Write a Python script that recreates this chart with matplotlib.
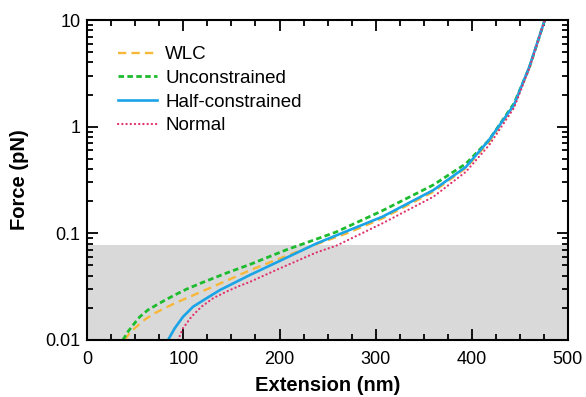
import numpy as np
import matplotlib
matplotlib.use('Agg')
import matplotlib.pyplot as plt
from matplotlib.ticker import FixedLocator, LogLocator, NullFormatter, MultipleLocator

plt.rcParams['font.family'] = ['Liberation Sans', 'DejaVu Sans']

# values
wlc_x = [39, 44, 51, 60, 70, 81, 93, 110, 145, 169, 200, 240, 270, 307, 360, 394,
         418, 444, 460, 476]
wlc_f = [0.01, 0.0116, 0.0133, 0.0156, 0.0178, 0.0200, 0.0225, 0.0262, 0.036,
         0.045, 0.058, 0.080, 0.100, 0.138, 0.245, 0.41, 0.72, 1.6, 3.6, 10]

uncon_x = [37, 42.4, 47.6, 54.6, 63, 72, 81, 91, 103, 117, 145, 169, 207, 238, 259, 307,
           360, 394, 418, 444, 460, 476]
uncon_f = [0.01, 0.012, 0.0138, 0.0165, 0.0191, 0.0213, 0.0237, 0.0264, 0.0299, 0.0338,
           0.0425, 0.051, 0.070, 0.088, 0.103, 0.163, 0.284, 0.45, 0.75, 1.65, 3.6, 10]

half_x = [84, 91, 99.6, 110, 124, 138, 152, 169, 200, 238, 262, 307, 360, 394, 418, 444,
          460, 476]
half_f = [0.01, 0.0129, 0.0165, 0.0205, 0.0246, 0.0294, 0.034, 0.0406, 0.055, 0.08, 0.098,
          0.143, 0.254, 0.42, 0.75, 1.6, 3.65, 10]

norm_x = [94.4, 99.6, 108.3, 118.7, 130.8, 144.7, 158.5, 169, 197, 238, 259, 307, 360, 394,
          418, 444, 460, 476]
norm_f = [0.01, 0.0129, 0.0165, 0.0205, 0.0246, 0.0284, 0.0322, 0.0350, 0.0455, 0.066,
          0.0765, 0.124, 0.22, 0.378, 0.67, 1.5, 3.55, 10]

shade_top = 0.078
y_ticks = [0.01, 0.1, 1, 10]
y_labels = ['0.01', '0.1', '1', '10']

fig = plt.figure(figsize=(5.86, 3.97), dpi=100)
ax = fig.add_axes([0.149, 0.1436, 0.82, 0.806])

ax.axhspan(0.01, shade_top, color='#d9d9d9', zorder=0, lw=0)

ax.plot(wlc_x, wlc_f, color='#f7b739', lw=1.7, ls=(0, (3.5, 2.2)), label='WLC')
ax.plot(uncon_x, uncon_f, color='#1dbb2e', lw=2.0, ls=(0, (2, 1.2)), label='Unconstrained')
ax.plot(half_x, half_f, color='#1aa3e6', lw=1.9, label='Half-constrained')
ax.plot(norm_x, norm_f, color='#e0336e', lw=1.6, ls=(0, (0.1, 1.8)),
        dash_capstyle='round', label='Normal')

ax.set_yscale('log')
ax.set_xlim(0, 500)
ax.set_ylim(0.01, 10)

ax.xaxis.set_major_locator(MultipleLocator(100))
ax.xaxis.set_minor_locator(MultipleLocator(25))
ax.yaxis.set_major_locator(FixedLocator(y_ticks))
ax.set_yticklabels(y_labels)
ax.yaxis.set_minor_locator(LogLocator(base=10, subs=np.arange(2, 10)))
ax.yaxis.set_minor_formatter(NullFormatter())

ax.tick_params(which='both', direction='in', top=True, right=True, width=1.3, labelsize=13)
ax.tick_params(which='major', length=8)
ax.tick_params(which='minor', length=4.5)
ax.tick_params(axis='x', which='major', pad=8)
ax.tick_params(axis='y', which='major', pad=5)
for s in ax.spines.values():
    s.set_linewidth(1.5)

ax.set_xlabel('Extension (nm)', fontsize=14.5, fontweight='bold', labelpad=6)
ax.set_ylabel('Force (pN)', fontsize=14.5, fontweight='bold', labelpad=12)

ax.legend(loc='upper left', frameon=False, fontsize=13.5, handlelength=2.1,
          handletextpad=0.45, labelspacing=0.35, borderpad=0, borderaxespad=0,
          bbox_to_anchor=(0.063, 0.918))

fig.savefig('out.png', dpi=100)
